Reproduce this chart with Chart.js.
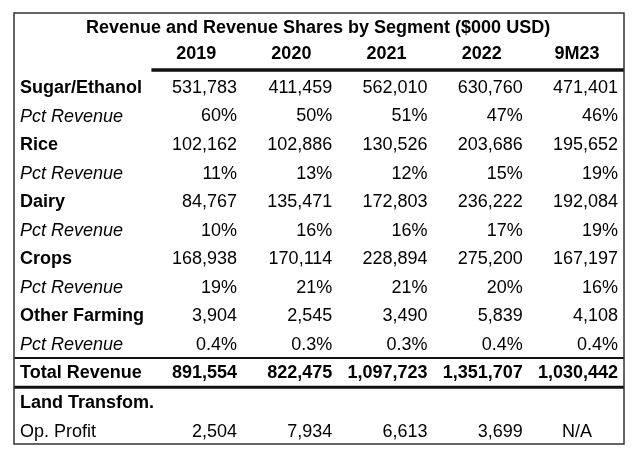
<!DOCTYPE html>
<html>
<head>
<meta charset="utf-8">
<script src="https://cdn.jsdelivr.net/npm/chart.js@4.4.0/dist/chart.umd.min.js"></script>
<style>
  html, body { margin: 0; padding: 0; background: #fff; }
  #wrap { width: 640px; height: 455px; }
</style>
</head>
<body>
<div id="wrap"><canvas id="tableChart" width="640" height="455"></canvas></div>
<script>
// table data
var title = 'Revenue and Revenue Shares by Segment ($000 USD)'
var years = ['2019', '2020', '2021', '2022', '9M23']
var sugar = [531783, 411459, 562010, 630760, 471401]
var sugarPct = [60, 50, 51, 47, 46]
var rice = [102162, 102886, 130526, 203686, 195652]
var ricePct = [11, 13, 12, 15, 19]
var dairy = [84767, 135471, 172803, 236222, 192084]
var dairyPct = [10, 16, 16, 17, 19]
var crops = [168938, 170114, 228894, 275200, 167197]
var cropsPct = [19, 21, 21, 20, 16]
var otherFarming = [3904, 2545, 3490, 5839, 4108]
var otherPct = [0.4, 0.3, 0.3, 0.4, 0.4]
var totalRevenue = [891554, 822475, 1097723, 1351707, 1030442]
var landOpProfit = [2504, 7934, 6613, 3699, null]

var FONT = '"Liberation Sans", Arial, sans-serif'

function num(v) { return v == null ? 'N/A' : v.toLocaleString('en-US') }
function pct(dec) { return function (v) { return v.toFixed(dec) + '%' } }

// rows: label, label style, values, formatter, value style
var rows = [
    { label: 'Sugar/Ethanol', style: 'bold', values: sugar, fmt: num },
    { label: 'Pct Revenue', style: 'italic', values: sugarPct, fmt: pct(0) },
    { label: 'Rice', style: 'bold', values: rice, fmt: num },
    { label: 'Pct Revenue', style: 'italic', values: ricePct, fmt: pct(0) },
    { label: 'Dairy', style: 'bold', values: dairy, fmt: num },
    { label: 'Pct Revenue', style: 'italic', values: dairyPct, fmt: pct(0) },
    { label: 'Crops', style: 'bold', values: crops, fmt: num },
    { label: 'Pct Revenue', style: 'italic', values: cropsPct, fmt: pct(0) },
    { label: 'Other Farming', style: 'bold', values: otherFarming, fmt: num },
    { label: 'Pct Revenue', style: 'italic', values: otherPct, fmt: pct(1) },
    { label: 'Total Revenue', style: 'bold', values: totalRevenue, fmt: num, bold: true },
    { label: 'Land Transfom.', style: 'bold', values: null },
    { label: 'Op. Profit', style: 'normal', values: landOpProfit, fmt: num }
]

// vertical slot of each line (title=0, header=1, body rows after)
function rowSlot(i) {
    var s = 2.1 + i
    if (i >= 10) s -= 0.02
    if (i >= 11) s += 0.07
    return s
}
var LABEL_X = -1.28

var cells = []
cells.push({ x: 1.85, y: 0, text: title, font: 'bold', align: 'center' })
years.forEach(function (yr, c) {
    cells.push({ x: c + 1 - 0.43, y: 0.91, text: yr, font: 'bold', align: 'center' })
})
rows.forEach(function (r, i) {
    var y = rowSlot(i)
    cells.push({ x: LABEL_X, y: y, text: r.label, font: r.style, align: 'left' })
    if (!r.values) return
    r.values.forEach(function (v, c) {
        if (v == null) {
            cells.push({ x: c + 1 - 0.43, y: y, text: r.fmt(v), font: 'normal', align: 'center' })
        } else {
            cells.push({ x: c + 1, y: y, text: r.fmt(v), font: r.bold ? 'bold' : 'normal', align: 'right' })
        }
    })
})

var tablePlugin = {
    id: 'tableText',
    afterDatasetsDraw: function (chart) {
        var ctx = chart.ctx
        var xs = chart.scales.x, ys = chart.scales.y
        var meta = chart.getDatasetMeta(0)
        ctx.save()
        ctx.fillStyle = '#000'
        ctx.textBaseline = 'middle'
        meta.data.forEach(function (pt, i) {
            var d = cells[i]
            var f = d.font === 'bold' ? 'bold ' : d.font === 'italic' ? 'italic ' : ''
            ctx.font = f + '18px ' + FONT
            ctx.textAlign = d.align
            ctx.fillText(d.text, pt.x, pt.y + 1)
        })

        // rules
        var left = xs.getPixelForValue(LABEL_X) - 6
        var right = xs.getPixelForValue(5) + 6
        var top = ys.getPixelForValue(0) - 14
        var bottom = ys.getPixelForValue(rowSlot(12)) + 13
        function mid(a, b) { return (ys.getPixelForValue(a) + ys.getPixelForValue(b)) / 2 }
        ctx.strokeStyle = '#111'
        ctx.lineWidth = 3.5
        ctx.beginPath()
        ctx.moveTo(xs.getPixelForValue(0.1), mid(0.91, rowSlot(0)))
        ctx.lineTo(right, mid(0.91, rowSlot(0)))
        ctx.stroke()
        ctx.lineWidth = 2
        ctx.beginPath()
        ctx.moveTo(left, mid(rowSlot(9), rowSlot(10)))
        ctx.lineTo(right, mid(rowSlot(9), rowSlot(10)))
        ctx.stroke()
        ctx.lineWidth = 3
        ctx.beginPath()
        ctx.moveTo(left, mid(rowSlot(10), rowSlot(11)))
        ctx.lineTo(right, mid(rowSlot(10), rowSlot(11)))
        ctx.stroke()
        ctx.lineWidth = 1.5
        ctx.strokeStyle = '#333'
        ctx.strokeRect(left, top, right - left, bottom - top)
        ctx.restore()
    }
}

new Chart(document.getElementById('tableChart').getContext('2d'), {
    type: 'scatter',
    data: {
        datasets: [{
            data: cells.map(function (d) { return { x: d.x, y: d.y } }),
            pointRadius: 0,
            pointHoverRadius: 0
        }]
    },
    options: {
        responsive: false,
        animation: false,
        events: [],
        layout: { padding: { left: 20, right: 22, top: 27, bottom: 24 } },
        plugins: { legend: { display: false }, tooltip: { enabled: false } },
        scales: {
            x: { type: 'linear', display: false, min: LABEL_X, max: 5 },
            y: { type: 'linear', display: false, reverse: true, min: 0, max: rowSlot(12) }
        }
    },
    plugins: [tablePlugin]
})
</script>
</body>
</html>
